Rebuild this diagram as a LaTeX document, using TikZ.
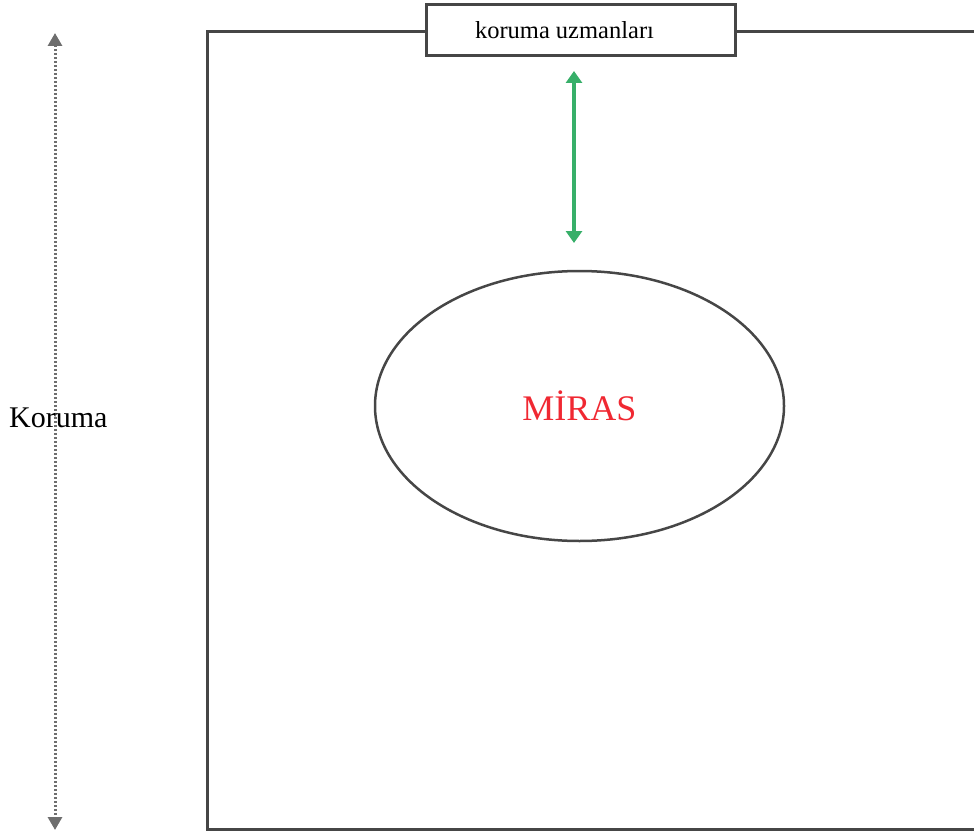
\documentclass[tikz,border=0pt]{standalone}
\usepackage{fontspec}
\setmainfont{Liberation Serif}
\usetikzlibrary{arrows.meta,shapes.geometric}
\definecolor{frame}{RGB}{70,70,70}
\definecolor{arrgreen}{RGB}{55,175,105}
\definecolor{dotgray}{RGB}{110,110,110}
\definecolor{mirasred}{RGB}{240,40,50}
\begin{document}
\begin{tikzpicture}[x=1pt,y=-1pt,
  frameline/.style={draw=frame,line width=3pt},
  topbox/.style={draw=frame,line width=3pt,fill=white,minimum width=309pt,minimum height=51pt,inner sep=0pt,font=\fontsize{24.5}{28}\selectfont},
  heritage/.style={draw=frame,line width=2.5pt,ellipse,minimum width=409pt,minimum height=270pt,inner sep=0pt,font=\fontsize{36}{40}\selectfont,text=mirasred},
  greenarrow/.style={draw=arrgreen,line width=4pt,{Triangle[length=12pt,width=16pt]}-{Triangle[length=12pt,width=16pt]}},
  dotarrow/.style={draw=dotgray,line width=3pt,dash pattern=on 2pt off 2pt,{Triangle[length=13pt,width=14pt]}-{Triangle[length=13pt,width=14pt]}}]
\useasboundingbox (0,0) rectangle (974,832);
% frame
\coordinate (ftl) at (207,32);
\coordinate (ftr) at (980,32);
\coordinate (fbl) at (207,829);
\coordinate (fbr) at (980,829);
\draw[frameline] (ftr) -- (ftl) -- (fbl) -- (fbr);
% top box
\node[topbox] (box) at (580.5,30.5) {\hspace*{-32pt}koruma uzmanları};
% ellipse
\node[heritage] (miras) at (579.5,406) {MİRAS};
% green arrow
\coordinate (ga) at (574,71);
\coordinate (gb) at (574,243);
\draw[greenarrow] (ga) -- (gb);
% left dotted arrow
\coordinate (la) at (55,33);
\coordinate (lb) at (55,830);
\draw[dotarrow] (la) -- (lb);
\node[font=\fontsize{30}{34}\selectfont,anchor=west,inner sep=0pt] (koruma) at (9,418) {Koruma};
\end{tikzpicture}
\end{document}
